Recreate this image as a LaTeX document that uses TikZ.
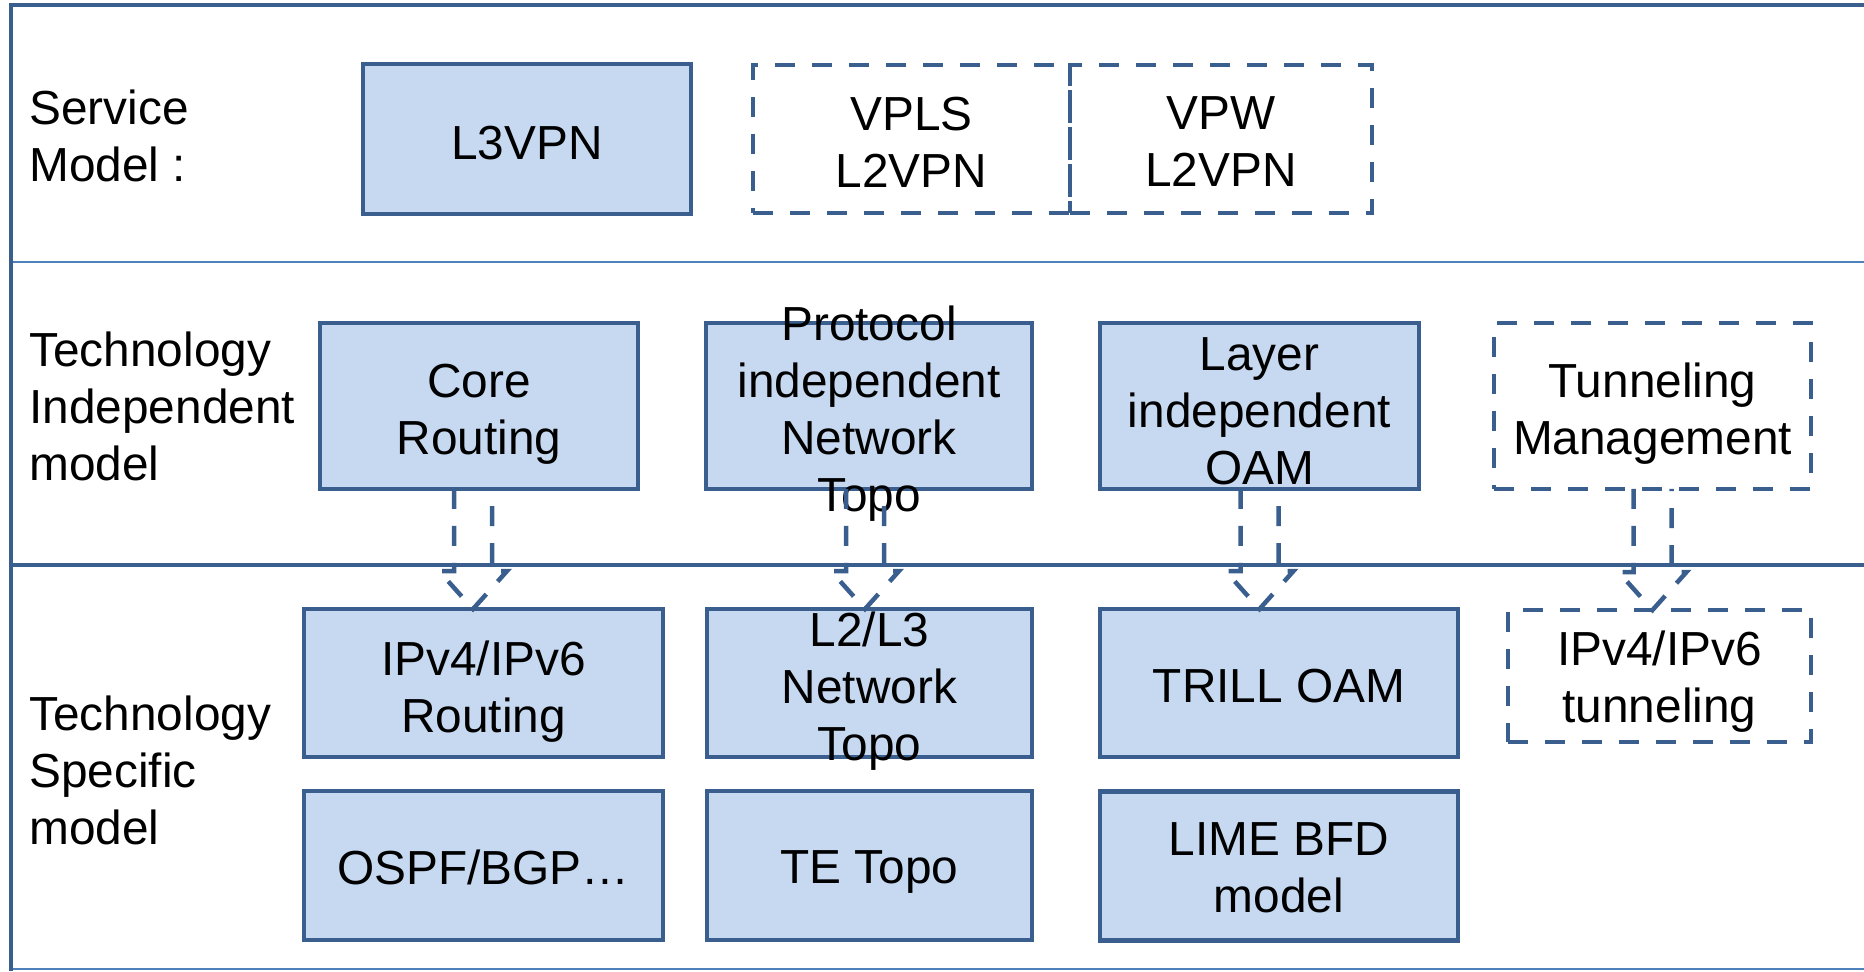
\documentclass[tikz,border=0pt]{standalone}
\usepackage{fontspec}
\setmainfont{Liberation Sans}
\usetikzlibrary{calc}

\definecolor{boxline}{HTML}{3A5F8F}
\definecolor{boxfill}{HTML}{C6D9F1}
\definecolor{ruleblue}{HTML}{4F81BD}

% dashed block arrow from the bottom of #2 down to the top of #3
\newcommand{\hollowarrow}[3][0]{%
  \coordinate (#2-top) at ($(#2.south)+(#1,0)$);
  \coordinate (#2-tip) at (#2-top |- #3.north);
  \draw[hollow] ($(#2-top)+(-19,0)$) -- ($(#2-tip)+(-19,-38)$) -- ($(#2-tip)+(-34,-38)$)
    -- (#2-tip) -- ($(#2-tip)+(34,-38)$) -- ($(#2-tip)+(19,-38)$) -- ($(#2-top)+(19,0)$);
}

\begin{document}
\begin{tikzpicture}[
    x=0.02cm, y=-0.02cm,
    font=\fontsize{27.2}{32.4}\selectfont,
    framerule/.style={boxline, line width=0.095cm},
    lightrule/.style={ruleblue, line width=0.04cm},
    bluebox/.style={rectangle, draw=boxline, fill=boxfill, line width=0.09cm, inner sep=0pt, outer sep=0pt},
    dashbox/.style={rectangle, draw=boxline, line width=0.09cm, dash pattern=on 0.4cm off 0.34cm, inner sep=0pt, outer sep=0pt},
    boxtext/.style={align=center, inner sep=0pt},
    rowlabel/.style={align=left, anchor=west, inner sep=0pt},
    hollow/.style={boxline, line width=0.09cm, dash pattern=on 0.4cm off 0.34cm},
]
\useasboundingbox (0,0) rectangle (1864,971);

% ============ Table rules ============
\draw[lightrule] (11,262) -- (1864,262);
\draw[lightrule] (11,969) -- (1864,969);
\draw[framerule] (11,565) -- (1864,565);
\draw[framerule] (11,971) -- (11,5) -- (1864,5);

% Row labels
\node[rowlabel] (svc) at (29,136) {Service\\Model :};
\node[rowlabel] (indep) at (29,406) {Technology\\Independent\\model};
\node[rowlabel] (spec) at (29,770) {Technology\\Specific\\model};

% ============ Service model ============
\node[bluebox, minimum width=6.56cm, minimum height=3.0cm] (l3vpn) at (527,139) {};
\node[dashbox, minimum width=6.34cm, minimum height=2.96cm] (vpls) at (911.5,139) {};
\node[dashbox, minimum width=6.04cm, minimum height=2.96cm] (vpw) at (1221,139) {};
\node[boxtext] at ($(l3vpn)+(0,4)$) {L3VPN};
\node[boxtext] at ($(vpls)+(0,3)$) {VPLS\\L2VPN};
\node[boxtext] at ($(vpw)+(0,3)$) {VPW\\L2VPN};

% ============ Technology independent ============
\node[bluebox, minimum width=6.36cm, minimum height=3.32cm] (core) at (479,406) {};
\node[bluebox, minimum width=6.52cm, minimum height=3.32cm] (topo) at (869,406) {};
\node[bluebox, minimum width=6.38cm, minimum height=3.32cm] (oam) at (1259.5,406) {};
\node[dashbox, minimum width=6.34cm, minimum height=3.32cm] (tunmgmt) at (1652.5,406) {};
\node[boxtext] at ($(core)+(0,8)$) {Core\\Routing};
\node[boxtext] at ($(topo)+(0,8)$) {Protocol\\independent\\Network\\Topo};
\node[boxtext] at ($(oam)+(0,5)$) {Layer\\independent\\OAM};
\node[boxtext] at ($(tunmgmt)+(0,8)$) {Tunneling\\Management};

% ============ Technology specific ============
\node[bluebox, minimum width=7.18cm, minimum height=2.96cm] (iprouting) at (483.5,683) {};
\node[bluebox, minimum width=6.5cm, minimum height=2.96cm] (l2l3) at (869.5,683) {};
\node[bluebox, minimum width=7.16cm, minimum height=2.96cm] (trill) at (1279,683) {};
\node[dashbox, minimum width=6.06cm, minimum height=2.64cm] (iptunnel) at (1659.5,676) {};
\node[boxtext] at ($(iprouting)+(0,9)$) {IPv4/IPv6\\Routing};
\node[boxtext] at ($(l2l3)+(0,8)$) {L2/L3\\Network\\Topo};
\node[boxtext] at ($(trill)+(0,3)$) {TRILL OAM};
\node[boxtext] at ($(iptunnel)+(0,6)$) {IPv4/IPv6\\tunneling};

\node[bluebox, minimum width=7.18cm, minimum height=2.98cm] (ospf) at (483.5,865.5) {};
\node[bluebox, minimum width=6.5cm, minimum height=2.98cm] (tetopo) at (869.5,865.5) {};
\node[bluebox, minimum width=7.16cm, minimum height=2.98cm] (lime) at (1279,866) {};
\node[boxtext] at ($(ospf)+(0,2)$) {OSPF/BGP…};
\node[boxtext] at ($(tetopo)+(0,7)$) {TE Topo};
\node[boxtext] at ($(lime)+(0,2)$) {LIME BFD\\model};

% Refinement arrows
\hollowarrow[-6]{core}{iprouting}
\hollowarrow[-4]{topo}{l2l3}
\hollowarrow{oam}{trill}
\hollowarrow{tunmgmt}{iptunnel}

\end{tikzpicture}
\end{document}
